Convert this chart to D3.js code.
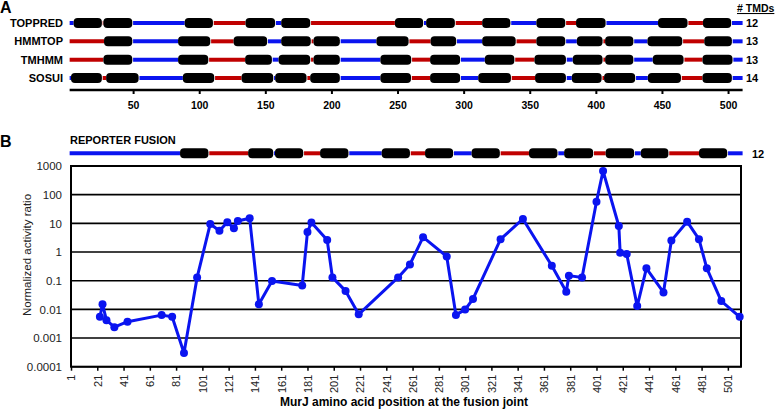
<!DOCTYPE html>
<html><head><meta charset="utf-8">
<script src="https://cdn.jsdelivr.net/npm/d3@7"></script>
<style>
html,body{margin:0;padding:0;background:#fff;}
svg{display:block;font-family:"Liberation Sans",Arial,sans-serif;}
</style></head>
<body>
<svg id="c" width="777" height="409"></svg>
<script>
// ---------- DATA ----------
const methods = ["TOPPRED", "HMMTOP", "TMHMM", "SOSUI"];
const tmdCounts = [12, 13, 13, 14];
const startSide = ["in", "out", "out", "in"]; // in = blue, out = red
const toppredTMD = [[5,27],[27.5,50],[89,111],[135,158],[162,184.6],[248,270],[271.6,294],[314,336],[355,377.5],[385,408],[447,470],[481,503]];
const hmmtopTMD = [[28,50],[84,109],[126,152],[162,185],[186.4,207],[234,259],[275,295],[314,340],[355,377.5],[385.6,405.7],[407,429],[439,466],[482,503.5]];
const tmhmmTMD = [[27.5,50],[84,107.5],[134.7,155.6],[160,184.6],[186.4,207],[237,261],[274.6,298],[316,339],[353.5,378],[382.5,405.7],[407,429],[443,467],[480.6,504]];
const sosuiTMD = [[3,27],[29.6,54.8],[87.6,112],[132,156.6],[157.4,181.8],[183.9,207],[237,260.8],[274.6,298],[311,336.4],[354,378],[381.8,405],[406.2,430.4],[439.3,465],[480.6,503.5]];
const reporterTMD = [[85.5,107.6],[137,156.6],[157.3,179.3],[191.4,213.5],[238,260],[270.8,292.7],[306,328],[349.4,371.6],[376,398.6],[407.4,429.6],[434,455.5],[478,500]];
const reporterCount = 12;
const proteinLength = 511;
const axisTicksA = [50,100,150,200,250,300,350,400,450,500];

const fusionPos = [23,25,28,34,44,70,78,87,97,107,114,120,125,128,137,144,154,177,181,184,196,200,210,220,250,259,269,287,294,301,307,328,345,367,378,380,390,401,406,418,419,424,432,439,452,458,470,479,485,496,510];
const activityRatio = [0.0055,0.015,0.0042,0.0024,0.0037,0.0063,0.0055,0.0003,0.13,9.5,5.5,11,6.7,12,15,0.015,0.098,0.068,5.0,10.8,2.6,0.13,0.044,0.0067,0.13,0.37,3.3,0.7,0.0064,0.0098,0.023,2.8,14.2,0.33,0.041,0.15,0.13,57,670,8.1,0.95,0.85,0.013,0.27,0.039,2.5,11.4,2.8,0.27,0.0195,0.0055];
const yTicks = [0.0001,0.001,0.01,0.1,1,10,100,1000];
const yTickLabels = ["0.0001","0.001","0.01","0.1","1","10","100","1000"];
const xTicksB = d3.range(1, 502, 20);

// ---------- DRAW ----------
const BLUE = "#0a14f0", RED = "#c00000";
const svg = d3.select("#c");
const xA = d3.scaleLinear().domain([0, proteinLength]).range([67, 742.6]);
const rowY = d3.scalePoint().domain(methods).range([23, 78]);
const allTMD = [toppredTMD, hmmtopTMD, tmhmmTMD, sosuiTMD];

function drawTrack(g, tmds, y, start) {
  let side = start;
  let pos = 2;
  const segs = [];
  tmds.forEach(t => { segs.push({a: pos, b: t[0], side}); side = side === "in" ? "out" : "in"; pos = t[1]; });
  segs.push({a: pos, b: proteinLength, side});
  g.selectAll(null).data(segs).enter().append("line")
    .attr("x1", d => xA(d.a)).attr("x2", d => xA(d.b))
    .attr("y1", y).attr("y2", y)
    .attr("stroke", d => d.side === "in" ? BLUE : RED).attr("stroke-width", 4);
  g.selectAll(null).data(tmds).enter().append("rect")
    .attr("x", d => xA(d[0])).attr("width", d => xA(d[1]) - xA(d[0]) - 0.8)
    .attr("y", y - 5).attr("height", 10).attr("rx", 4).attr("fill", "#000");
}

const gA = svg.append("g");
gA.append("text").attr("x", 0).attr("y", 13).attr("font-size", 16).attr("font-weight", "bold").text("A");
methods.forEach((m, i) => {
  const y = rowY(m);
  drawTrack(gA, allTMD[i], y, startSide[i]);
  gA.append("text").attr("x", 63).attr("y", y + 4).attr("text-anchor", "end")
    .attr("font-size", 11).attr("font-weight", "bold").text(m);
  gA.append("text").attr("x", 746).attr("y", y + 4)
    .attr("font-size", 11).attr("font-weight", "bold").text(tmdCounts[i]);
});
gA.append("text").attr("x", 737).attr("y", 12).attr("font-size", 10.5).attr("font-weight", "bold")
  .attr("text-decoration", "underline").text("# TMDs");

// axis A
const axA = d3.axisBottom(xA).tickValues(axisTicksA).tickSize(4).tickSizeOuter(0).tickPadding(8);
const gAx = gA.append("g").attr("transform", "translate(0,90)").call(axA);
gAx.select(".domain").attr("stroke-width", 2.5).attr("d", `M${xA(2)},0H${xA(proteinLength)}`);
gAx.selectAll(".tick line").attr("stroke-width", 2);
gAx.selectAll(".tick text").attr("font-size", 10.5).attr("font-weight", "bold")
  .attr("font-family", '"Liberation Sans",Arial,sans-serif').attr("fill", "#000");

// Panel B
const gB = svg.append("g");
gB.append("text").attr("x", 0).attr("y", 147).attr("font-size", 16).attr("font-weight", "bold").text("B");
gB.append("text").attr("x", 70).attr("y", 144).attr("font-size", 11).attr("font-weight", "bold").text("REPORTER FUSION");
drawTrack(gB, reporterTMD, 153.3, "in");
gB.append("text").attr("x", 752).attr("y", 157.5).attr("font-size", 11).attr("font-weight", "bold").text(reporterCount);

const xB = d3.scaleLinear().domain([1, proteinLength]).range([71, 741]);
const yB = d3.scaleLog().domain([0.0001, 1000]).range([366.7, 166]);

// grid
gB.selectAll(".grid").data(yTicks).enter().append("line")
  .attr("x1", xB(1)).attr("x2", xB(proteinLength))
  .attr("y1", d => yB(d)).attr("y2", d => yB(d))
  .attr("stroke", "#000").attr("stroke-width", 1.6);
gB.append("rect").attr("x", xB(1)).attr("y", yB(1000)).attr("width", xB(proteinLength) - xB(1))
  .attr("height", yB(0.0001) - yB(1000)).attr("fill", "none").attr("stroke", "#000").attr("stroke-width", 2);

// y axis
const axY = d3.axisLeft(yB).tickValues(yTicks).tickFormat((d, i) => yTickLabels[i]).tickSize(0).tickPadding(9);
const gY = gB.append("g").attr("transform", `translate(${xB(1)},0)`).call(axY);
gY.select(".domain").remove();
gY.selectAll(".tick text").attr("font-size", 11.5).attr("font-family", '"Liberation Sans",Arial,sans-serif').attr("fill", "#222");

// x axis
const axX = d3.axisBottom(xB).tickValues(xTicksB).tickFormat(d3.format("d")).tickSize(4).tickSizeOuter(0).tickPadding(4);
const gX = gB.append("g").attr("transform", `translate(0,${yB(0.0001)})`).call(axX);
gX.select(".domain").remove();
gX.selectAll(".tick line").attr("stroke-width", 1.5);
gX.selectAll(".tick text").attr("font-size", 11).attr("font-family", '"Liberation Sans",Arial,sans-serif').attr("fill", "#222")
  .attr("text-anchor", "end").attr("transform", "rotate(-90)").attr("x", -8).attr("y", 0).attr("dy", "0.35em");

// titles
gB.append("text").attr("transform", "translate(31,255) rotate(-90)").attr("text-anchor", "middle")
  .attr("font-size", 11.5).attr("fill", "#222").text("Normalized activity ratio");
gB.append("text").attr("x", 404).attr("y", 406).attr("text-anchor", "middle")
  .attr("font-size", 12).attr("font-weight", "bold").text("MurJ amino acid position at the fusion joint");

// series
const pts = fusionPos.map((p, i) => ({x: p, y: activityRatio[i]}));
gB.append("path").datum(pts).attr("fill", "none").attr("stroke", BLUE).attr("stroke-width", 3)
  .attr("stroke-linejoin", "round")
  .attr("d", d3.line().x(d => xB(d.x)).y(d => yB(d.y)));
gB.selectAll(".pt").data(pts).enter().append("circle")
  .attr("cx", d => xB(d.x)).attr("cy", d => yB(d.y)).attr("r", 4).attr("fill", BLUE);
</script>
</body></html>
